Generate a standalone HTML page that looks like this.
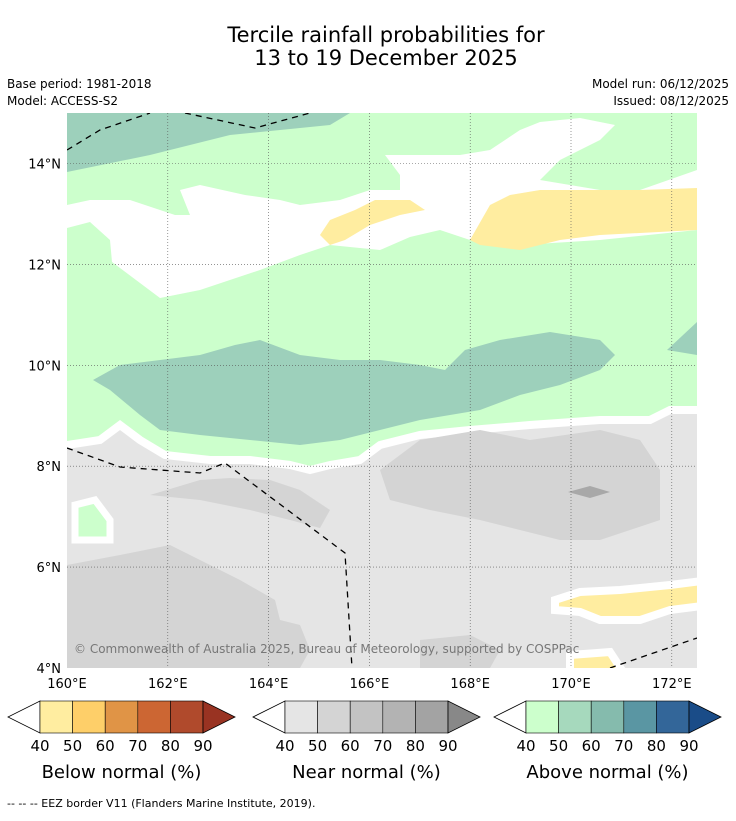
<!DOCTYPE html>
<html><head><meta charset="utf-8"><style>
body{margin:0;background:#fff;font-family:"Liberation Sans","DejaVu Sans",sans-serif;}
svg text{font-family:"DejaVu Sans","Liberation Sans",sans-serif;}
</style></head><body>
<svg id="s" width="736" height="816" viewBox="0 0 736 816" xmlns="http://www.w3.org/2000/svg">
<text x="386" y="42" font-size="21" text-anchor="middle">Tercile rainfall probabilities for</text>
<text x="386" y="65" font-size="21" text-anchor="middle">13 to 19 December 2025</text>
<text x="7" y="88" font-size="12">Base period: 1981-2018</text>
<text x="7" y="105" font-size="12">Model: ACCESS-S2</text>
<text x="729" y="88" font-size="12" text-anchor="end">Model run: 06/12/2025</text>
<text x="729" y="105" font-size="12" text-anchor="end">Issued: 08/12/2025</text>
<defs><clipPath id="mc"><rect x="67" y="113" width="630" height="555"/></clipPath></defs>
<g clip-path="url(#mc)">
<rect x="67" y="113" width="630" height="555" fill="#ccffcc"/>
<polygon fill="#fff" points="67,228 90,222 110,240 112,262 160,298 200,290 260,270 300,255 330,245 380,250 410,237 440,230 470,240 520,245 600,240 697,230 697,170 640,190 600,190 540,180 560,160 600,140 615,125 580,118 540,122 520,130 490,150 460,155 385,155 400,175 400,190 370,190 340,200 300,205 280,200 245,195 200,185 180,190 190,215 175,215 130,200 90,200 67,205"/>
<polygon fill="#9dd0bb" points="67,113 350,113 330,125 230,135 150,155 67,172"/>
<polygon fill="#ffeda0" points="320,235 330,220 355,210 375,200 410,200 425,210 400,215 370,225 345,240 330,245"/>
<polygon fill="#ffeda0" points="470,240 490,205 510,195 540,190 600,190 640,190 697,188 697,230 600,235 560,240 520,250 480,245"/>
<polygon fill="#9dd0bb" points="93,380 120,365 200,355 235,345 260,340 300,355 340,360 380,360 420,365 445,370 465,350 500,340 550,332 600,340 615,355 600,370 560,385 520,395 480,410 420,420 380,430 340,440 300,445 250,440 200,435 160,430 140,415 110,390"/>
<polygon fill="#9dd0bb" points="667,350 697,322 697,355"/>
<polygon fill="#e5e5e5" stroke="#fff" stroke-width="8" points="67,445 100,440 120,425 140,440 165,455 210,460 250,460 290,465 310,470 330,465 360,460 380,445 420,435 470,430 530,425 600,420 650,420 670,410 710,410 710,680 60,680 60,445"/>
<polygon fill="#d4d4d4" points="67,565 120,555 170,545 200,560 240,580 275,600 280,620 300,625 310,650 300,668 67,668"/>
<polygon fill="#d4d4d4" points="380,470 420,440 480,430 530,440 600,430 640,440 660,470 660,520 630,530 600,540 560,540 520,530 480,520 430,510 390,500"/>
<polygon fill="#d4d4d4" points="150,495 200,480 230,478 270,480 300,490 330,510 320,528 290,520 250,510 200,500"/>
<polygon fill="#d4d4d4" points="420,640 470,635 500,650 490,668 420,668"/>
<polygon fill="#a8a8a8" points="568,492 590,486 610,492 590,498"/>
<polygon fill="#ccffcc" stroke="#fff" stroke-width="7" points="75,505 95,500 110,520 110,540 75,540"/>
<polygon fill="#ffeda0" stroke="#fff" stroke-width="8" points="555,600 580,592 620,590 670,585 710,580 710,605 670,610 640,620 600,620 580,612 555,610"/>
<polygon fill="#ffeda0" stroke="#fff" stroke-width="8" points="570,655 610,652 625,675 570,675"/>
<g id="grid"></g>
<g fill="none" stroke="#000" stroke-width="1.3" stroke-dasharray="6,5">
<polyline points="67,150 100,130 150,113"/>
<polyline points="185,113 255,128 310,113"/>
<polyline points="67,448 120,467 200,473 225,463 345,553 352,668"/>
<polyline points="610,668 697,638"/>
</g>
<text x="74" y="653" font-size="12" fill="#777">© Commonwealth of Australia 2025, Bureau of Meteorology, supported by COSPPac</text>
</g>
<g id="axes"></g>
<g id="cbars"></g>
<text x="7" y="807" font-size="11">--  --  -- EEZ border V11 (Flanders Marine Institute, 2019).</text>
</svg>
<script>
const lonTicks=[160,162,164,166,168,170,172];
const latTicks=[4,6,8,10,12,14];
const cbTicks=[40,50,60,70,80,90];
const belowColors=["#ffeda0","#fecf69","#e09446","#cc6633","#b04a2c","#993322"];
const nearColors=["#e5e5e5","#d4d4d4","#c3c3c3","#b3b3b3","#a3a3a3","#888888"];
const aboveColors=["#ccffcc","#a6d9bd","#85bbad","#5a96a3","#336699","#1a4c88"];
const cbTitles=["Below normal (%)","Near normal (%)","Above normal (%)"];
const NS="http://www.w3.org/2000/svg";
const X=lon=>67+(lon-160)*50.4, Y=lat=>668-(lat-4)*50.45;
function mk(t,a,p){const e=document.createElementNS(NS,t);for(const k in a)e.setAttribute(k,a[k]);p.appendChild(e);return e;}
const grid=document.getElementById('grid'),axes=document.getElementById('axes');
lonTicks.forEach(l=>{if(l>160){const g=mk('line',{x1:X(l),x2:X(l),y1:113,y2:668,stroke:'#555','stroke-width':0.6,'stroke-dasharray':'1,2'},grid);

}
const t=mk('text',{x:X(l),y:688,'font-size':13,'text-anchor':'middle'},axes);t.textContent=l+'°E';

});
latTicks.forEach(l=>{if(l>4){const g=mk('line',{x1:67,x2:697,y1:Y(l),y2:Y(l),stroke:'#555','stroke-width':0.6,'stroke-dasharray':'1,2'},grid);

}
const t=mk('text',{x:61,y:Y(l)+5,'font-size':13,'text-anchor':'end'},axes);t.textContent=l+'°N';

});
const cb=document.getElementById('cbars');
[[40,belowColors],[285,nearColors],[526,aboveColors]].forEach(([x0,cols],i)=>{
 const w=32.6,y0=701,h=32;
 const lt=mk('polygon',{points:`${x0},${y0} ${x0},${y0+h} ${x0-32},${y0+h/2}`,fill:'#fff',stroke:'#000','stroke-width':0.8},cb);
 
 
 for(let k=0;k<5;k++){const r=mk('rect',{x:x0+k*w,y:y0,width:w,height:h,fill:cols[k],stroke:'#000','stroke-width':0.6},cb);
 
 }
 const xe=x0+5*w;
 const rt=mk('polygon',{points:`${xe},${y0} ${xe},${y0+h} ${xe+32},${y0+h/2}`,fill:cols[5],stroke:'#000','stroke-width':0.8},cb);
 
 
 cbTicks.forEach((v,k)=>{const t=mk('text',{x:x0+k*w,y:751,'font-size':15,'text-anchor':'middle'},cb);t.textContent=v;
 
 });
 const tt=mk('text',{x:x0+2.5*w,y:778,'font-size':18,'text-anchor':'middle'},cb);tt.textContent=cbTitles[i];
 
 
});
</script>
</body></html>
